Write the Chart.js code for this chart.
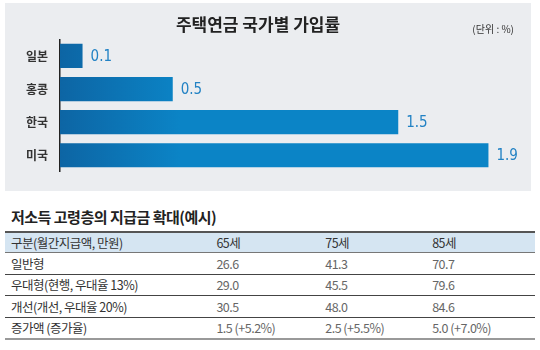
<!DOCTYPE html>
<html>
<head>
<meta charset="utf-8">
<script src="https://cdn.jsdelivr.net/npm/chart.js@4/dist/chart.umd.min.js"></script>
<style>
  body { margin: 0; width: 540px; height: 350px; background: #fff; position: relative; overflow: hidden;
         font-family: "Noto Sans CJK KR", "Noto Sans", sans-serif; }
  #panel { position: absolute; left: 5px; top: 3px; width: 526px; height: 188px; background: #ebedf0; }
  #unit { position: absolute; right: 17px; top: 18px; font-size: 10px; color: #333; }
  #tableTitle { position: absolute; left: 11px; top: 206px; font-size: 15px; font-weight: bold; color: #222; letter-spacing: -0.5px; }
  table { position: absolute; left: 5px; top: 231px; width: 530px; border-collapse: collapse;
          font-size: 12.5px; letter-spacing: -0.5px; }
  td { padding: 0 0 0 6px; height: 20.5px; border-bottom: 1px solid #444; color: #666; }
  td:first-child { color: #333; }
  tr.head td { background: #d5e5f2; color: #333; height: 17px; border-top: 2px solid #555; border-bottom: 1px solid #777; }
  tr:last-child td { border-bottom: 2px solid #999; }
</style>
</head>
<body>
<div id="panel">
  <canvas id="myChart"></canvas>
  <div id="unit">(단위 : %)</div>
</div>
<div id="tableTitle">저소득 고령층의 지급금 확대(예시)</div>
<table id="payTable"></table>
<script>
// bar chart data
const countries = ['일본', '홍콩', '한국', '미국'];
const joinRates = [0.1, 0.5, 1.5, 1.9];

// table data
const ageColumns = ['65세', '75세', '85세'];
const rowLabels = ['일반형', '우대형(현행, 우대율 13%)', '개선(개선, 우대율 20%)', '증가액 (증가율)'];
const normalPay = ['26.6', '41.3', '70.7'];
const preferPay = ['29.0', '45.5', '79.6'];
const improvedPay = ['30.5', '48.0', '84.6'];
const increasePay = ['1.5 (+5.2%)', '2.5 (+5.5%)', '5.0 (+7.0%)'];

// build table
const table = document.getElementById('payTable');
const rows = [['구분(월간지급액, 만원)'].concat(ageColumns)];
[normalPay, preferPay, improvedPay, increasePay].forEach((vals, i) => {
  rows.push([rowLabels[i]].concat(vals));
});
const colWidths = [211, 107, 105, 107];
rows.forEach((r, i) => {
  const tr = document.createElement('tr');
  if (i === 0) tr.className = 'head';
  r.forEach((cell, j) => {
    const td = document.createElement('td');
    td.textContent = cell;
    td.style.width = colWidths[j] + 'px';
    tr.appendChild(td);
  });
  table.appendChild(tr);
});

// value labels next to bars
const valueLabels = {
  id: 'valueLabels',
  afterDatasetsDraw(chart) {
    const ctx = chart.ctx;
    const meta = chart.getDatasetMeta(0);
    ctx.save();
    ctx.font = '15px "DejaVu Sans Condensed", "Noto Sans", sans-serif';
    ctx.fillStyle = '#2282c4';
    ctx.textAlign = 'left';
    ctx.textBaseline = 'middle';
    meta.data.forEach((bar, i) => {
      ctx.fillText(joinRates[i].toFixed(1), bar.x + 8, bar.y + 1);
    });
    ctx.restore();
  }
};

const canvas = document.getElementById('myChart');
canvas.width = 526;
canvas.height = 188;
new Chart(canvas, {
  type: 'bar',
  data: {
    labels: countries,
    datasets: [{
      data: joinRates,
      backgroundColor: (c) => {
        const area = c.chart.chartArea;
        if (!area) return '#0b84c6';
        const g = c.chart.ctx.createLinearGradient(area.left, 0, area.left + 120, 0);
        g.addColorStop(0, '#0d65a4');
        g.addColorStop(1, '#0b84c6');
        return g;
      },
      barPercentage: 0.73,
      categoryPercentage: 1
    }]
  },
  options: {
    indexAxis: 'y',
    responsive: false,
    animation: false,
    layout: { padding: { left: 0, right: 20, top: 0, bottom: 13 } },
    plugins: {
      legend: { display: false },
      tooltip: { enabled: false },
      title: {
        display: true,
        text: '주택연금 국가별 가입률',
        color: '#222',
        font: { size: 17, weight: 'bold', family: '"Noto Sans CJK KR", sans-serif' },
        padding: { top: 11, bottom: 5 }
      }
    },
    scales: {
      x: { display: false, min: 0, max: 2.0 },
      y: {
        grid: { display: false, drawTicks: false },
        border: { display: true, color: '#222', width: 1.5 },
        ticks: {
          color: '#333',
          padding: 12,
          font: { size: 12, weight: 'bold', family: '"Noto Sans CJK KR", sans-serif' }
        },
        afterFit: (scale) => { scale.width = 55; }
      }
    }
  },
  plugins: [valueLabels]
});
</script>
</body>
</html>
